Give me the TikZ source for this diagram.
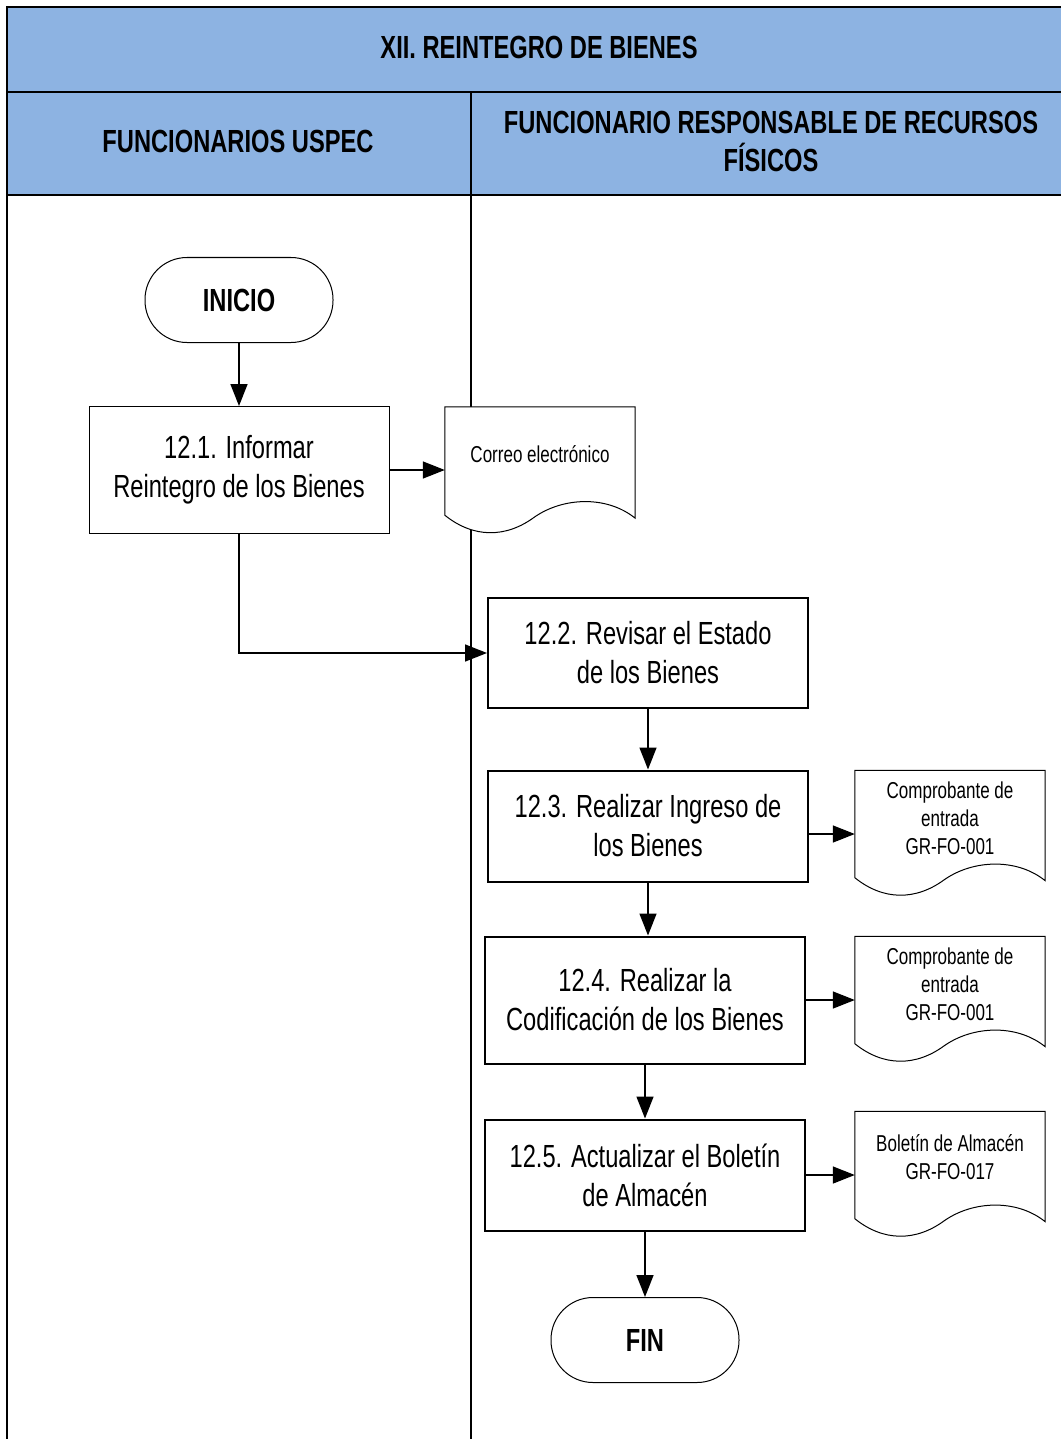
\documentclass[tikz,border=0pt]{standalone}
\usepackage{fontspec}
\setmainfont{Liberation Sans}[FakeStretch=0.74]
\usetikzlibrary{arrows.meta,calc}
\definecolor{hdrblue}{RGB}{141,179,226}
\tikzset{
  hdr/.style={fill=hdrblue, draw=black, line width=2pt},
  hdrtext/.style={font=\fontsize{32}{38}\selectfont\bfseries, align=center, inner sep=0},
  term/.style={draw, line width=1pt, fill=white, rounded corners=42pt, minimum width=188pt,
    minimum height=85pt, font=\fontsize{32}{38}\selectfont\bfseries, inner sep=0},
  proc/.style={draw, line width=2pt, fill=white, minimum width=320pt, minimum height=110pt,
    align=center, font=\fontsize{32}{39}\selectfont, inner sep=0},
  docbox/.style={minimum width=190pt, minimum height=128pt, inner sep=0},
  doctext/.style={align=center, font=\fontsize{23}{28}\selectfont, inner sep=0},
  flow/.style={line width=1.5pt, -{Triangle[length=22pt,width=17pt]}},
}
% outline of a document symbol (wavy bottom) around a named box node
\newcommand\docoutline[1]{%
  \path[draw, fill=white, line width=1pt]
    (#1.north west) -- (#1.north east) -- ($(#1.south east)+(0,-17)$)
    .. controls ($(#1.south west)!0.85!(#1.south east)+(0,-40)$)
            and ($(#1.south west)!0.62!(#1.south east)+(0,-38)$)
    .. ($(#1.south west)!0.47!(#1.south east)+(0,-18)$)
    .. controls ($(#1.south west)!0.32!(#1.south east)+(0,3)$)
            and ($(#1.south west)!0.15!(#1.south east)+(0,3)$)
    .. ($(#1.south west)+(0,-20)$) -- cycle;}
\begin{document}
\begin{tikzpicture}[x=1pt, y=-1pt]
  \useasboundingbox[fill=white] (0,0) rectangle (1060,1439);

  % swimlane frame
  \draw[hdr] (7,7) rectangle (1064,92);
  \draw[hdr] (7,92) rectangle (471,195);
  \draw[hdr] (471,92) rectangle (1064,195);
  \draw[line width=2.5pt] (7,195) -- (7,1445);
  \draw[line width=2pt] (471,195) -- (471,1445);

  \node[hdrtext] (title) at (539,47) {XII. REINTEGRO DE BIENES};
  \node[hdrtext] (lane1) at (238,141) {FUNCIONARIOS USPEC};
  \node[hdrtext] (lane2) at (771,141) {FUNCIONARIO RESPONSABLE DE RECURSOS\\F\'ISICOS};

  % process nodes
  \node[term] (inicio) at (239,300) {INICIO};
  \node[proc, line width=1pt, minimum width=300pt, minimum height=127pt] (p121) at (239,470)
    {12.1. Informar\\Reintegro de los Bienes};
  \node[proc] (p122) at (648,653) {12.2. Revisar el Estado\\de los Bienes};
  \node[proc, minimum height=111pt] (p123) at (648,826) {12.3. Realizar Ingreso de\\los Bienes};
  \node[proc, minimum height=127pt] (p124) at (645,1000) {12.4. Realizar la\\Codificaci\'on de los Bienes};
  \node[proc, minimum height=111pt] (p125) at (645,1175) {12.5. Actualizar el Bolet\'in\\de Almac\'en};
  \node[term] (fin) at (645,1340) {FIN};

  % documents
  \node[docbox] (d1) at (540,471) {};
  \docoutline{d1}
  \node[doctext] (d1t) at (540,454) {Correo electr\'onico};

  \node[docbox, minimum height=127pt] (d2) at (950,834) {};
  \docoutline{d2}
  \node[doctext] (d2t) at (950,818) {Comprobante de\\entrada\\GR-FO-001};

  \node[docbox, minimum height=127pt] (d3) at (950,1000) {};
  \docoutline{d3}
  \node[doctext] (d3t) at (950,984) {Comprobante de\\entrada\\GR-FO-001};

  \node[docbox, minimum height=127pt] (d4) at (950,1175) {};
  \docoutline{d4}
  \node[doctext] (d4t) at (950,1157) {Bolet\'in de Almac\'en\\GR-FO-017};

  % connectors
  \draw[flow] (inicio.south) -- (p121.north);
  \draw[flow] (p121.east) -- (p121.east -| d1.west);
  \draw[flow] (p121.south) |- (p122.west);
  \draw[flow] (p122.south) -- (p122.south |- p123.north);
  \draw[flow] (d2.west -| p123.east) -- (d2.west);
  \draw[flow] (p123.south) -- (p123.south |- p124.north);
  \draw[flow] (d3.west -| p124.east) -- (d3.west);
  \draw[flow] (p124.south) -- (p124.south |- p125.north);
  \draw[flow] (d4.west -| p125.east) -- (d4.west);
  \draw[flow] (p125.south) -- (fin.north);
\end{tikzpicture}
\end{document}
